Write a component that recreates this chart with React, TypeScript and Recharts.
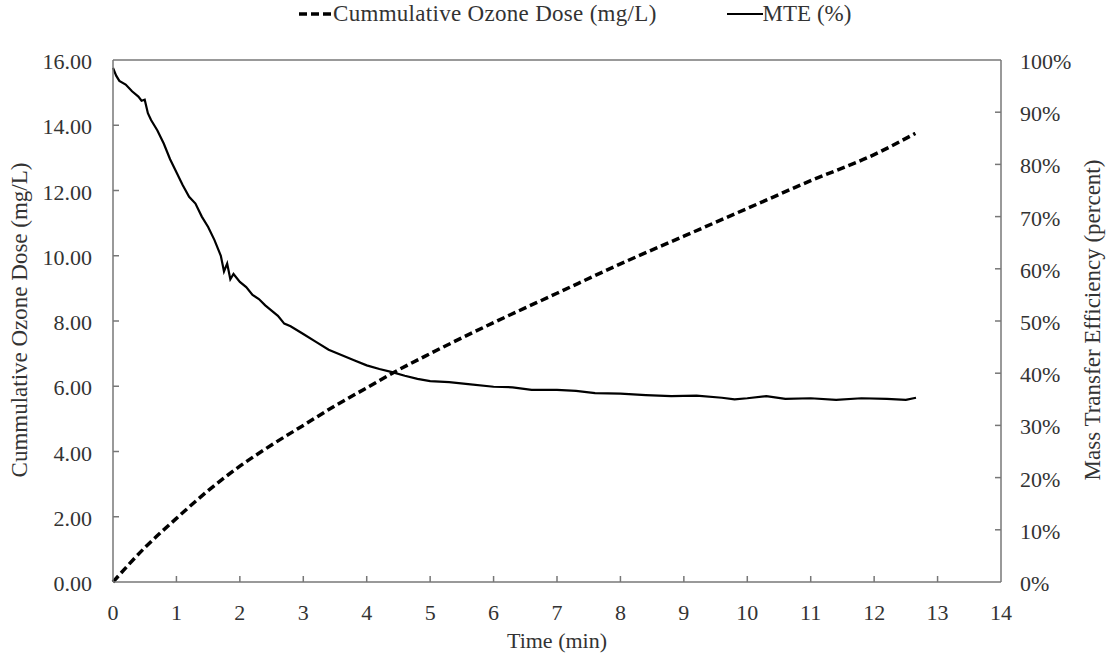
import { LineChart, Line, XAxis, YAxis, ReferenceLine } from 'recharts';

// cumulative ozone dose (mg/L) vs time (min)
const doseTime = [0, 0.5, 1, 1.5, 2, 2.5, 3, 3.5, 4, 4.5, 5, 6, 7, 8, 9, 10, 11, 12, 12.65];
const doseValues = [0, 1.05, 1.95, 2.8, 3.55, 4.2, 4.8, 5.4, 5.95, 6.5, 7.0, 7.95, 8.85, 9.75, 10.6, 11.45, 12.3, 13.1, 13.75];

// mass transfer efficiency (%) vs time (min)
const mteTime = [
  0, 0.05, 0.1, 0.2, 0.3, 0.4, 0.45, 0.5, 0.55, 0.6, 0.7, 0.8, 0.9, 1.0, 1.1, 1.2, 1.3, 1.4, 1.5, 1.6,
  1.7, 1.75, 1.8, 1.85, 1.9, 2.0, 2.1, 2.2, 2.3, 2.4, 2.5, 2.6, 2.7, 2.8, 3.0, 3.2, 3.4, 3.6, 3.8, 4.0,
  4.2, 4.4, 4.6, 4.8, 5.0, 5.3, 5.6, 6.0, 6.3, 6.6, 7.0, 7.3, 7.6, 8.0, 8.4, 8.8, 9.2, 9.6, 9.8, 10.0,
  10.3, 10.6, 11.0, 11.4, 11.8, 12.2, 12.5, 12.66,
];
const mteValues = [
  98.5, 97, 96, 95.3, 94, 93, 92.2, 92.4, 89.8, 88.5, 86.5, 84, 81, 78.5, 76, 73.8, 72.5, 70, 68, 65.5,
  62.5, 59.5, 61, 58, 59, 57.5, 56.5, 55, 54.2, 53, 52, 51, 49.5, 49, 47.5, 46, 44.5, 43.5, 42.5, 41.5,
  40.8, 40.2, 39.5, 38.9, 38.5, 38.3, 37.9, 37.4, 37.3, 36.8, 36.8, 36.6, 36.2, 36.1, 35.8, 35.6, 35.7, 35.3, 35.0, 35.2,
  35.6, 35.1, 35.2, 34.9, 35.2, 35.1, 34.9, 35.3,
];

const xTicks = [0, 1, 2, 3, 4, 5, 6, 7, 8, 9, 10, 11, 12, 13, 14];
const leftTicks = [0, 2, 4, 6, 8, 10, 12, 14, 16];
const rightTicks = [0, 10, 20, 30, 40, 50, 60, 70, 80, 90, 100];

const doseData = doseTime.map((t, i) => ({ t, dose: doseValues[i] }));
const mteData = mteTime.map((t, i) => ({ t, mte: mteValues[i] }));

const FONT = '"Liberation Serif", "Times New Roman", serif';
const TEXT = '#333';
const AXIS = '#777';

const XTick = (props: any) => {
  const { x, y, payload } = props;
  return (
    <g>
      {payload.value > 0 && payload.value < 14 && <line x1={x} x2={x} y1={y} y2={y - 6} stroke={AXIS} strokeWidth={1.5} />}
      <text x={x} y={y + 38} textAnchor="middle" fontFamily={FONT} fontSize={22} fill={TEXT}>
        {payload.value}
      </text>
    </g>
  );
};

const LeftTick = (props: any) => {
  const { x, y, payload } = props;
  return (
    <g>
      {payload.value > 0 && payload.value < 16 && <line x1={x} x2={x + 6} y1={y} y2={y} stroke={AXIS} strokeWidth={1.5} />}
      <text x={x - 21} y={y + 9} textAnchor="end" fontFamily={FONT} fontSize={22} fill={TEXT}>
        {payload.value.toFixed(2)}
      </text>
    </g>
  );
};

const RightTick = (props: any) => {
  const { x, y, payload } = props;
  return (
    <g>
      {payload.value > 0 && payload.value < 100 && <line x1={x} x2={x - 6} y1={y} y2={y} stroke={AXIS} strokeWidth={1.5} />}
      <text x={x + 19} y={y + 9} textAnchor="start" fontFamily={FONT} fontSize={22} fill={TEXT}>
        {`${payload.value}%`}
      </text>
    </g>
  );
};

const Legend = () => (
  <div
    style={{
      position: 'absolute',
      top: 1,
      left: 298,
      display: 'flex',
      alignItems: 'center',
      fontFamily: FONT,
      fontSize: 23,
      color: TEXT,
      whiteSpace: 'nowrap',
    }}
  >
    <svg width={35} height={10}>
      <line x1={1} x2={34} y1={5} y2={5} stroke="#000" strokeWidth={3.5} strokeDasharray="8 4" />
    </svg>
    <span style={{ letterSpacing: 0.3 }}>Cummulative Ozone Dose (mg/L)</span>
    <span style={{ width: 70 }} />
    <svg width={36} height={10}>
      <line x1={0} x2={36} y1={5} y2={5} stroke="#000" strokeWidth={2} />
    </svg>
    <span>MTE (%)</span>
  </div>
);

export default function App() {
  return (
    <div style={{ position: 'absolute', left: 0, top: 0, width: 1113, height: 660, background: '#fff' }}>
      <Legend />
      <LineChart width={1113} height={660} margin={{ top: 60, right: 32, bottom: 38, left: 33 }}>
        <XAxis
          dataKey="t"
          type="number"
          domain={[0, 14]}
          ticks={xTicks}
          allowDuplicatedCategory={false}
          height={40}
          tickSize={0}
          tickMargin={0}
          tick={<XTick />}
          stroke={AXIS}
          strokeWidth={1.5}
          label={() => (
            <text x={557} y={648} textAnchor="middle" fontFamily={FONT} fontSize={22} fill={TEXT}>
              Time  (min)
            </text>
          )}
        />
        <YAxis
          yAxisId="left"
          orientation="left"
          domain={[0, 16]}
          ticks={leftTicks}
          width={80}
          tickSize={0}
          tickMargin={0}
          tick={<LeftTick />}
          stroke={AXIS}
          strokeWidth={1.5}
          label={() => (
            <text x={27} y={320} transform="rotate(-90 27 320)" textAnchor="middle" fontFamily={FONT} fontSize={23} fill={TEXT}>
              Cummulative  Ozone Dose (mg/L)
            </text>
          )}
        />
        <YAxis
          yAxisId="right"
          orientation="right"
          domain={[0, 100]}
          ticks={rightTicks}
          width={80}
          tickSize={0}
          tickMargin={0}
          tick={<RightTick />}
          stroke={AXIS}
          strokeWidth={1.5}
          label={() => (
            <text x={1100} y={320} transform="rotate(-90 1100 320)" textAnchor="middle" fontFamily={FONT} fontSize={23} fill={TEXT}>
              Mass Transfer Efficiency  (percent)
            </text>
          )}
        />
        <ReferenceLine yAxisId="left" y={16} stroke={AXIS} strokeWidth={1.5} />
        <Line
          yAxisId="left"
          data={doseData}
          dataKey="dose"
          type="monotone"
          stroke="#000"
          strokeWidth={3.5}
          strokeDasharray="8 4"
          dot={false}
          isAnimationActive={false}
        />
        <Line
          yAxisId="right"
          data={mteData}
          dataKey="mte"
          type="linear"
          stroke="#000"
          strokeWidth={2.2}
          dot={false}
          isAnimationActive={false}
        />
      </LineChart>
    </div>
  );
}
